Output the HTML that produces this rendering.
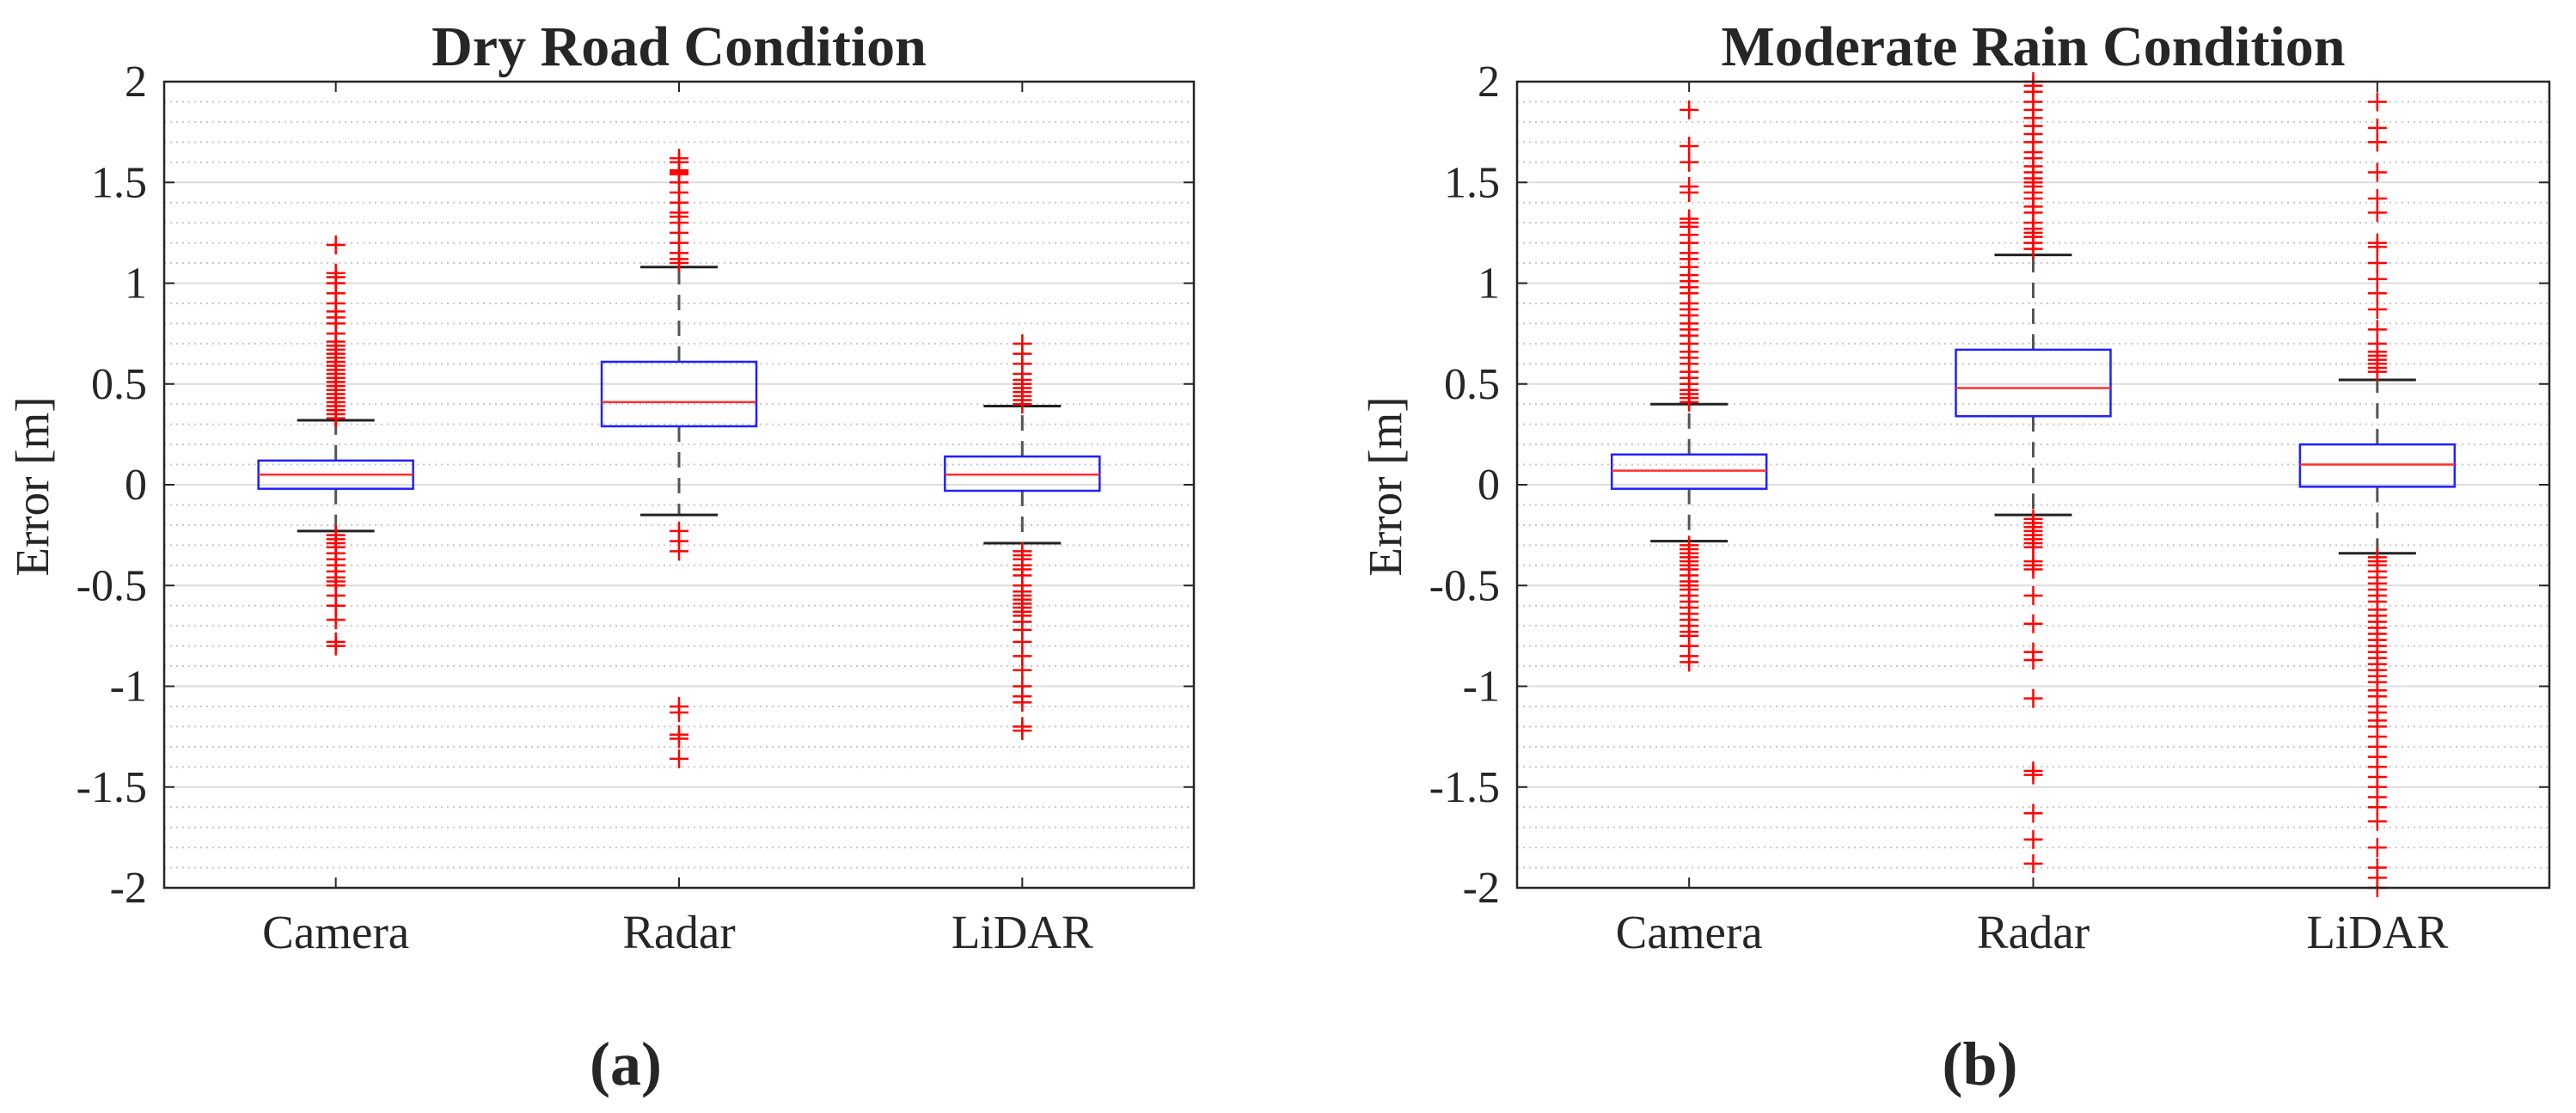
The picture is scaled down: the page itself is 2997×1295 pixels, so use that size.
<!DOCTYPE html>
<html><head><meta charset="utf-8"><style>
html,body{margin:0;padding:0;background:#fff;}
svg{display:block;}
text{font-family:"Liberation Serif",serif;fill:#262626;}
</style></head><body>
<svg id="fig" width="2997" height="1295" viewBox="0 0 2997 1295" xmlns="http://www.w3.org/2000/svg"></svg>
<script>
// ---- data ----
const categories = ["Camera","Radar","LiDAR"];
const yTicks = [2,1.5,1,0.5,0,-0.5,-1,-1.5,-2];
const yTickLabels = ["2","1.5","1","0.5","0","-0.5","-1","-1.5","-2"];
const titles = ["Dry Road Condition","Moderate Rain Condition"];
const panelLabels = ["(a)","(b)"];
// [q1, median, q3, lowerWhisker, upperWhisker]
const dryStats = [[-0.02,0.05,0.12,-0.23,0.32],[0.29,0.41,0.61,-0.15,1.08],[-0.03,0.05,0.14,-0.29,0.39]];
const rainStats = [[-0.02,0.07,0.15,-0.28,0.40],[0.34,0.48,0.67,-0.15,1.14],[-0.01,0.10,0.20,-0.34,0.52]];
const dryCameraOut = [0.33,0.35,0.37,0.39,0.41,0.43,0.45,0.47,0.49,0.51,0.53,0.55,0.57,0.59,0.61,0.63,0.65,0.67,0.69,0.71,0.75,0.8,0.83,0.86,0.9,0.95,1.0,1.03,1.05,1.19,-0.25,-0.27,-0.29,-0.31,-0.34,-0.37,-0.4,-0.43,-0.46,-0.48,-0.5,-0.55,-0.6,-0.67,-0.78,-0.8];
const dryRadarOut = [1.1,1.12,1.15,1.2,1.25,1.3,1.33,1.35,1.4,1.45,1.5,1.54,1.55,1.56,1.6,1.62,-0.23,-0.28,-0.33,-1.1,-1.13,-1.24,-1.26,-1.36];
const dryLidarOut = [0.4,0.42,0.44,0.46,0.48,0.5,0.52,0.55,0.6,0.65,0.7,-0.33,-0.35,-0.37,-0.4,-0.42,-0.45,-0.5,-0.53,-0.55,-0.57,-0.59,-0.61,-0.63,-0.65,-0.68,-0.72,-0.78,-0.85,-0.92,-1.0,-1.05,-1.08,-1.2,-1.22];
const rainCameraOut = [0.41,0.43,0.45,0.47,0.5,0.53,0.56,0.6,0.63,0.66,0.7,0.74,0.77,0.8,0.84,0.87,0.9,0.95,0.98,1.01,1.04,1.08,1.12,1.15,1.2,1.24,1.28,1.3,1.32,1.45,1.48,1.6,1.68,1.86,-0.3,-0.32,-0.34,-0.36,-0.38,-0.4,-0.42,-0.45,-0.48,-0.5,-0.52,-0.55,-0.58,-0.61,-0.64,-0.67,-0.7,-0.73,-0.75,-0.8,-0.85,-0.88];
const rainRadarOut = [1.17,1.2,1.23,1.25,1.27,1.3,1.35,1.38,1.42,1.45,1.48,1.5,1.52,1.55,1.58,1.62,1.65,1.7,1.74,1.78,1.82,1.86,1.9,1.95,1.98,2.0,-0.17,-0.19,-0.21,-0.23,-0.25,-0.27,-0.29,-0.31,-0.38,-0.4,-0.42,-0.55,-0.69,-0.83,-0.87,-1.06,-1.42,-1.44,-1.63,-1.76,-1.88];
const rainLidarOut = [0.56,0.58,0.6,0.62,0.64,0.66,0.7,0.77,0.87,0.95,1.02,1.1,1.18,1.2,1.35,1.42,1.55,1.7,1.77,1.9,-0.36,-0.38,-0.4,-0.43,-0.46,-0.49,-0.52,-0.55,-0.58,-0.62,-0.65,-0.68,-0.71,-0.74,-0.77,-0.8,-0.83,-0.86,-0.89,-0.92,-0.95,-0.98,-1.02,-1.05,-1.1,-1.13,-1.17,-1.2,-1.25,-1.3,-1.35,-1.4,-1.45,-1.5,-1.55,-1.6,-1.67,-1.8,-1.9,-1.95,-2.0];

const panels = [
  {left:191,right:1389,stats:dryStats,outs:[dryCameraOut,dryRadarOut,dryLidarOut]},
  {left:1765,right:2966,stats:rainStats,outs:[rainCameraOut,rainRadarOut,rainLidarOut]}
];
const TOP=95,BOT=1033,YMIN=-2,YMAX=2;
const NS="http://www.w3.org/2000/svg";
const svg=document.getElementById('fig');
function mk(tag,attrs,parent){const e=document.createElementNS(NS,tag);for(const k in attrs)e.setAttribute(k,attrs[k]);(parent||svg).appendChild(e);return e;}
function yS(v){return BOT-(v-YMIN)/(YMAX-YMIN)*(BOT-TOP);}

panels.forEach((p,pi)=>{
  const g=mk('g',{});
  
  
  const W=p.right-p.left;
  const xS=i=>p.left+W*(2*i+1)/6;
  // minor grid
  for(let k=-19;k<=19;k++){
    if(k%5===0)continue;
    const y=yS(k/10);
    const l=mk('line',{x1:p.left,x2:p.right,y1:y,y2:y,stroke:'#c8c8c8','stroke-width':2,'stroke-dasharray':'2 5'},g);
    
    
  }
  yTicks.forEach((t,ti)=>{
    const y=yS(t);
    if(t>YMIN&&t<YMAX){
      const l=mk('line',{x1:p.left,x2:p.right,y1:y,y2:y,stroke:'#dcdcdc','stroke-width':2},g);
      
      
    }
    mk('line',{x1:p.left,x2:p.left+12,y1:y,y2:y,stroke:'#262626','stroke-width':2},g);
    mk('line',{x1:p.right-12,x2:p.right,y1:y,y2:y,stroke:'#262626','stroke-width':2},g);
    const tx=mk('text',{x:p.left-20,y:y+17,'text-anchor':'end','font-size':52},g);
    tx.textContent=yTickLabels[ti];
    
    
  });
  categories.forEach((c,i)=>{
    const x=xS(i);
    mk('line',{x1:x,x2:x,y1:TOP,y2:TOP+12,stroke:'#262626','stroke-width':2},g);
    mk('line',{x1:x,x2:x,y1:BOT-12,y2:BOT,stroke:'#262626','stroke-width':2},g);
    const tx=mk('text',{x:x,y:1103,'text-anchor':'middle','font-size':55},g);
    tx.textContent=c;
    
    
    const s=p.stats[i];
    const bw=90, cw=45;
    const wl=mk('line',{x1:x,x2:x,y1:yS(s[2]),y2:yS(s[4]),stroke:'#555','stroke-width':3,'stroke-dasharray':'18 12'},g);
    
    
    const wl2=mk('line',{x1:x,x2:x,y1:yS(s[0]),y2:yS(s[3]),stroke:'#555','stroke-width':3,'stroke-dasharray':'18 12'},g);
    
    
    mk('line',{x1:x-cw,x2:x+cw,y1:yS(s[4]),y2:yS(s[4]),stroke:'#222','stroke-width':3},g);
    mk('line',{x1:x-cw,x2:x+cw,y1:yS(s[3]),y2:yS(s[3]),stroke:'#222','stroke-width':3},g);
    const b=mk('rect',{x:x-bw,y:yS(s[2]),width:2*bw,height:yS(s[0])-yS(s[2]),fill:'none',stroke:'#2020ff','stroke-width':2.5},g);
    
    
    const m=mk('line',{x1:x-bw,x2:x+bw,y1:yS(s[1]),y2:yS(s[1]),stroke:'#ff3030','stroke-width':2.5},g);
    
    
    p.outs[i].forEach(v=>{
      const y=yS(v);
      const o=mk('path',{d:`M${x-11},${y}H${x+11}M${x},${y-11}V${y+11}`,stroke:'#ff0000','stroke-width':2.5},g);
      
      
    });
  });
  const fr=mk('rect',{x:p.left,y:TOP,width:W,height:BOT-TOP,fill:'none',stroke:'#262626','stroke-width':2.5},g);
  
  
  const cx=(p.left+p.right)/2;
  const t=mk('text',{x:cx,y:76,'text-anchor':'middle','font-size':66,'font-weight':'bold',fill:'#000'},g);
  t.textContent=titles[pi];
  
  
  const yl=mk('text',{x:0,y:0,'text-anchor':'middle','font-size':55,transform:`translate(${p.left-135},566) rotate(-90)`},g);
  yl.textContent='Error [m]';
  
  
  const pl=mk('text',{x:cx-62,y:1262,'text-anchor':'middle','font-size':72,'font-weight':'bold',fill:'#000'},g);
  pl.textContent=panelLabels[pi];
  
  
});
</script>
</body></html>
